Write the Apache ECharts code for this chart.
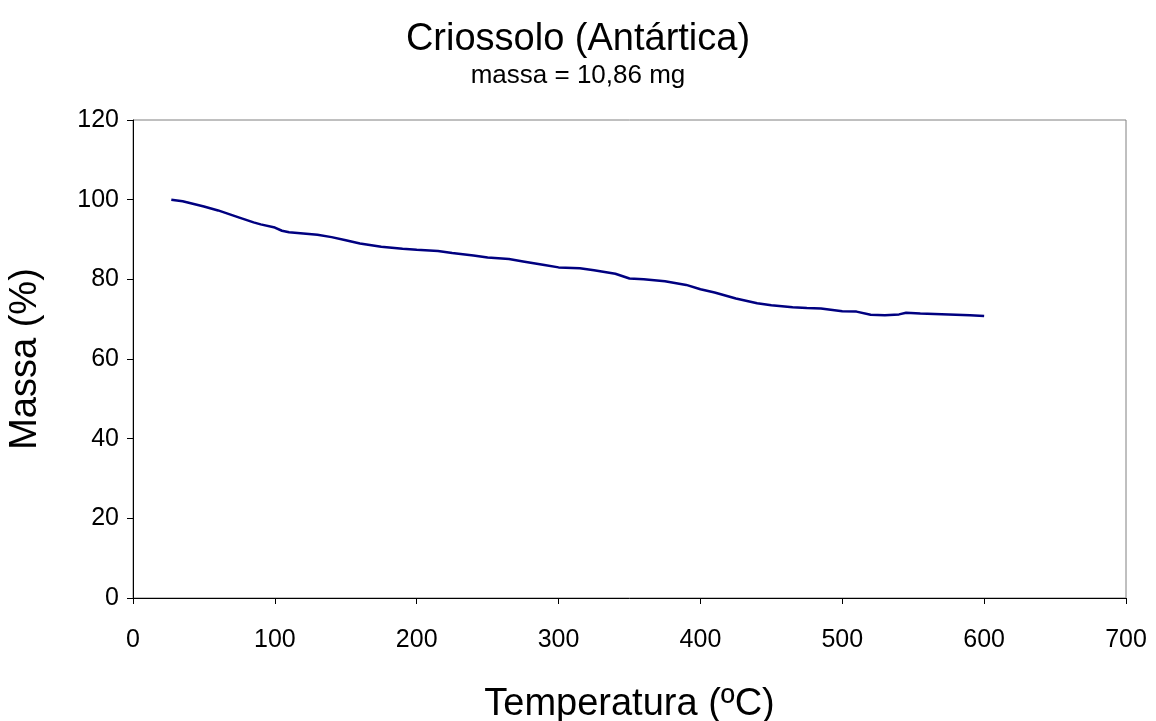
<!DOCTYPE html>
<html>
<head>
<meta charset="utf-8">
<script src="https://cdn.jsdelivr.net/npm/echarts@6/dist/echarts.min.js"></script>
<style>body{margin:0;background:#fff}#chart{width:1156px;height:721px}</style>
</head>
<body>
<div id="chart"></div>
<script>
"use strict";
let temperatura = [27,35,50,60,75,85,90,100,105,110,130,140,150,160,175,190,200,215,225,240,250,265,275,290,300,315,325,340,350,360,375,390,400,410,425,440,450,465,475,485,500,510,520,530,540,545,555,565,575,590,600];
let massa = [100,99.6,98.3,97.3,95.5,94.3,93.8,93,92.2,91.8,91.2,90.6,89.8,89,88.2,87.7,87.4,87.1,86.6,86,85.5,85.1,84.5,83.6,83,82.8,82.3,81.4,80.2,80,79.5,78.6,77.5,76.7,75.2,74,73.5,73,72.8,72.7,72,71.9,71.1,71,71.2,71.6,71.4,71.3,71.2,71,70.8];

let chart = echarts.init(document.getElementById("chart"));
let font = "Liberation Sans, Arial, sans-serif";
chart.setOption({
    animation:false,
    title:{
        text:"Criossolo (Antártica)",
        subtext:"massa = 10,86 mg",
        left:"center",
        top:16,
        itemGap:4,
        textStyle:{fontFamily:font,fontSize:38,fontWeight:"normal",color:"#000"},
        subtextStyle:{fontFamily:font,fontSize:26,color:"#000"}
    },
    grid:{left:133,right:30,top:120,bottom:123,containLabel:false,outerBoundsMode:"none",show:true,borderColor:"#808080",borderWidth:1},
    xAxis:{
        type:"value",min:0,max:700,interval:100,
        name:"Temperatura (ºC)",nameLocation:"middle",nameGap:88,
        nameTextStyle:{fontFamily:font,fontSize:38,color:"#000"},
        axisLine:{lineStyle:{color:"#000"}},
        axisTick:{show:true,length:6,lineStyle:{color:"#000"}},
        axisLabel:{fontFamily:font,fontSize:25,color:"#000",margin:30},
        splitLine:{show:false}
    },
    yAxis:{
        type:"value",min:0,max:120,interval:20,
        name:"Massa (%)",nameLocation:"middle",nameGap:88,
        nameTextStyle:{fontFamily:font,fontSize:38,color:"#000"},
        axisLine:{show:true,lineStyle:{color:"#000"}},
        axisTick:{show:true,length:6,lineStyle:{color:"#000"}},
        axisLabel:{fontFamily:font,fontSize:25,color:"#000",margin:14},
        splitLine:{show:false}
    },
    series:[{
        type:"line",
        data:temperatura.map((t,i)=>[t,massa[i]]),
        showSymbol:false,
        lineStyle:{color:"#000080",width:2.5}
    }]
});
</script>
</body>
</html>
